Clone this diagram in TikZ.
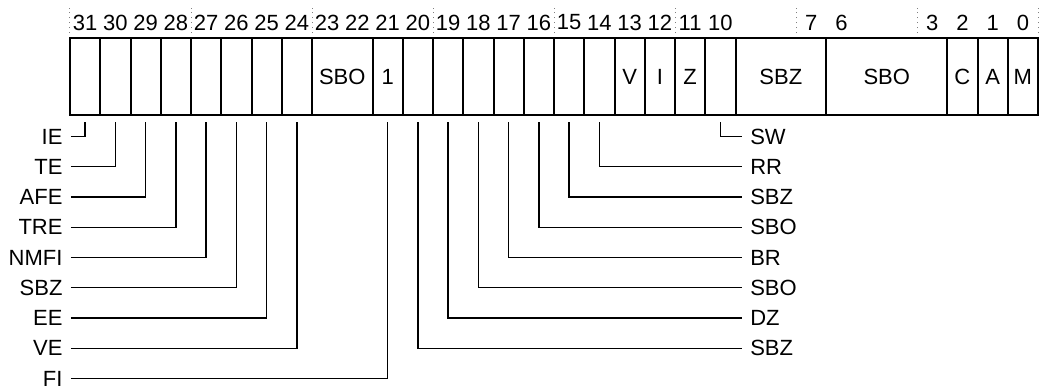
\documentclass[tikz,border=0pt]{standalone}
\usepackage{fontspec}
\setmainfont{Liberation Sans}

\begin{document}
\begin{tikzpicture}[x=15.125pt, y=15.125pt,
  every node/.style={font=\fontsize{11}{13}\selectfont, inner sep=0pt},
  cell/.style={draw, line width=1pt, minimum width=15.125pt, minimum height=38.5pt, outer xsep=0pt, outer ysep=3.5pt},
  lbl/.style={inner xsep=4pt},
  wire/.style={line width=0.65pt},
  guide/.style={dotted, line width=0.5pt, gray}]
\useasboundingbox (-2.314,-9.058) rectangle (32.231,3.802);
% dotted guides every 4 bits
\draw[guide] (0,2.545) -- (0,3.54);
\draw[guide] (4,2.545) -- (4,3.54);
\draw[guide] (8,2.545) -- (8,3.54);
\draw[guide] (12,2.545) -- (12,3.54);
\draw[guide] (16,2.545) -- (16,3.54);
\draw[guide] (20,2.545) -- (20,3.54);
\draw[guide] (24,2.545) -- (24,3.54);
\draw[guide] (28,2.545) -- (28,3.54);
\draw[guide] (32,2.545) -- (32,3.54);
% bit numbers
\node (n31) at (0.5,3.06) {31};
\node (n30) at (1.5,3.06) {30};
\node (n29) at (2.5,3.06) {29};
\node (n28) at (3.5,3.06) {28};
\node (n27) at (4.5,3.06) {27};
\node (n26) at (5.5,3.06) {26};
\node (n25) at (6.5,3.06) {25};
\node (n24) at (7.5,3.06) {24};
\node (n23) at (8.5,3.06) {23};
\node (n22) at (9.5,3.06) {22};
\node (n21) at (10.5,3.06) {21};
\node (n20) at (11.5,3.06) {20};
\node (n19) at (12.5,3.06) {19};
\node (n18) at (13.5,3.06) {18};
\node (n17) at (14.5,3.06) {17};
\node (n16) at (15.5,3.06) {16};
\node (n15) at (16.5,3.06) {15};
\node (n14) at (17.5,3.06) {14};
\node (n13) at (18.5,3.06) {13};
\node (n12) at (19.5,3.06) {12};
\node (n11) at (20.5,3.06) {11};
\node (n10) at (21.5,3.06) {10};
\node (n7) at (24.5,3.06) {7};
\node (n6) at (25.5,3.06) {6};
\node (n3) at (28.5,3.06) {3};
\node (n2) at (29.5,3.06) {2};
\node (n1) at (30.5,3.06) {1};
\node (n0) at (31.5,3.06) {0};
% register cells
\node[cell] (c31) at (0.5,1.2725) {};
\node[cell] (c30) at (1.5,1.2725) {};
\node[cell] (c29) at (2.5,1.2725) {};
\node[cell] (c28) at (3.5,1.2725) {};
\node[cell] (c27) at (4.5,1.2725) {};
\node[cell] (c26) at (5.5,1.2725) {};
\node[cell] (c25) at (6.5,1.2725) {};
\node[cell] (c24) at (7.5,1.2725) {};
\node[cell, minimum width=30.25pt] (c23) at (9,1.2725) {SBO};
\node[cell] (c21) at (10.5,1.2725) {1};
\node[cell] (c20) at (11.5,1.2725) {};
\node[cell] (c19) at (12.5,1.2725) {};
\node[cell] (c18) at (13.5,1.2725) {};
\node[cell] (c17) at (14.5,1.2725) {};
\node[cell] (c16) at (15.5,1.2725) {};
\node[cell] (c15) at (16.5,1.2725) {};
\node[cell] (c14) at (17.5,1.2725) {};
\node[cell] (c13) at (18.5,1.2725) {V};
\node[cell] (c12) at (19.5,1.2725) {I};
\node[cell] (c11) at (20.5,1.2725) {Z};
\node[cell] (c10) at (21.5,1.2725) {};
\node[cell, minimum width=45.375pt] (c9) at (23.5,1.2725) {SBZ};
\node[cell, minimum width=60.5pt] (c6) at (27,1.2725) {SBO};
\node[cell] (c2) at (29.5,1.2725) {C};
\node[cell] (c1) at (30.5,1.2725) {A};
\node[cell] (c0) at (31.5,1.2725) {M};
% left labels
\node[lbl, anchor=east] (ie) at (0.03,-0.71) {IE};
\node[lbl, anchor=east] (te) at (0.03,-1.71) {TE};
\node[lbl, anchor=east] (afe) at (0.03,-2.71) {AFE};
\node[lbl, anchor=east] (tre) at (0.03,-3.71) {TRE};
\node[lbl, anchor=east] (nmfi) at (0.03,-4.71) {NMFI};
\node[lbl, anchor=east] (sbzl) at (0.03,-5.71) {SBZ};
\node[lbl, anchor=east] (ee) at (0.03,-6.71) {EE};
\node[lbl, anchor=east] (ve) at (0.03,-7.71) {VE};
\node[lbl, anchor=east] (fi) at (0.03,-8.71) {FI};
% right labels
\node[lbl, anchor=west] (sw) at (22.21,-0.71) {SW};
\node[lbl, anchor=west] (rr) at (22.21,-1.71) {RR};
\node[lbl, anchor=west] (sbza) at (22.21,-2.71) {SBZ};
\node[lbl, anchor=west] (sboa) at (22.21,-3.71) {SBO};
\node[lbl, anchor=west] (br) at (22.21,-4.71) {BR};
\node[lbl, anchor=west] (sbob) at (22.21,-5.71) {SBO};
\node[lbl, anchor=west] (dz) at (22.21,-6.71) {DZ};
\node[lbl, anchor=west] (sbzb) at (22.21,-7.71) {SBZ};
% left connectors
\draw[wire] (ie.east) -| (c31.south);
\draw[wire] (te.east) -| (c30.south);
\draw[wire] (afe.east) -| (c29.south);
\draw[wire] (tre.east) -| (c28.south);
\draw[wire] (nmfi.east) -| (c27.south);
\draw[wire] (sbzl.east) -| (c26.south);
\draw[wire] (ee.east) -| (c25.south);
\draw[wire] (ve.east) -| (c24.south);
\draw[wire] (fi.east) -| (c21.south);
% right connectors
\draw[wire] (sw.west) -| (c10.south);
\draw[wire] (rr.west) -| (c14.south);
\draw[wire] (sbza.west) -| (c15.south);
\draw[wire] (sboa.west) -| (c16.south);
\draw[wire] (br.west) -| (c17.south);
\draw[wire] (sbob.west) -| (c18.south);
\draw[wire] (dz.west) -| (c19.south);
\draw[wire] (sbzb.west) -| (c20.south);
\end{tikzpicture}
\end{document}
